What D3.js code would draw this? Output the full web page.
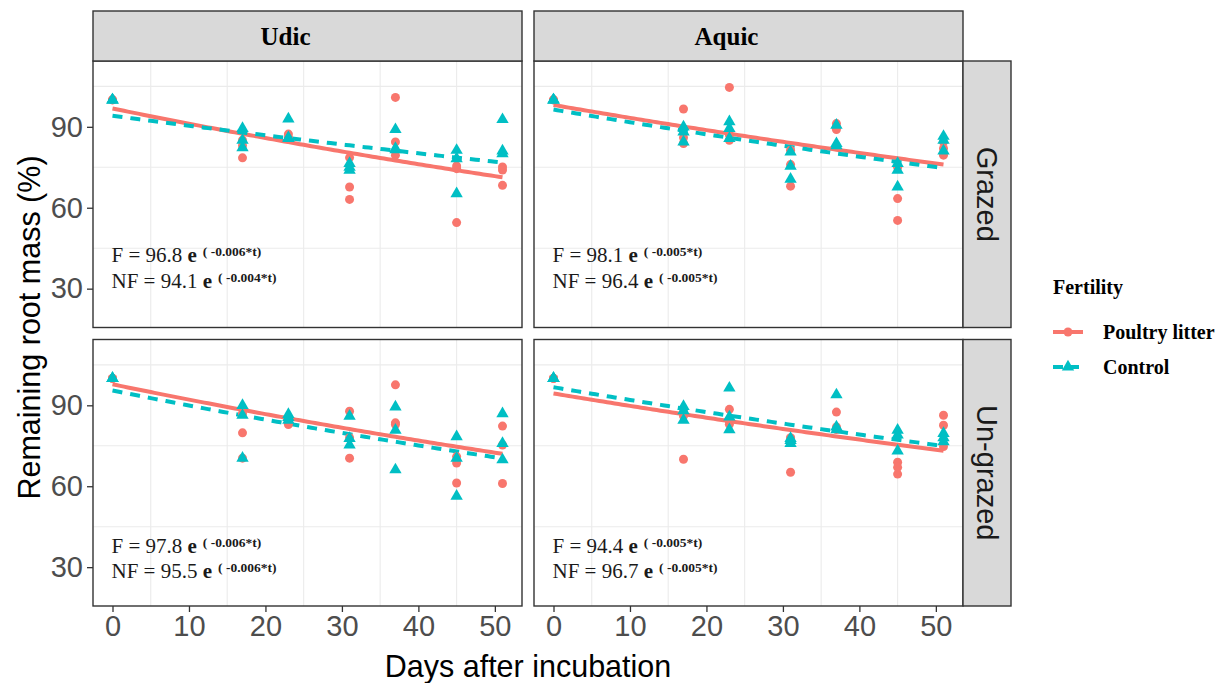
<!DOCTYPE html>
<html>
<head>
<meta charset="utf-8">
<script src="https://cdn.jsdelivr.net/npm/d3@7"></script>
<style>
  body { margin: 0; background: #fff; }
  svg { display: block; }
</style>
</head>
<body>
<svg id="chart" width="1223" height="683"></svg>
<script>
// ---- data -------------------------------------------------------------
const days = [0, 17, 23, 31, 37, 45, 51];
const soils = ["Udic", "Aquic"];
const grazing = ["Grazed", "Un-grazed"];
const fertility = ["Poultry litter", "Control"];
const yTicks = [30, 60, 90];
const xTicks = [0, 10, 20, 30, 40, 50];

// Remaining root mass (%) per sampling day, three replicates each
const udicGrazedPoultry = [[100, 100, 100], [78.5, 83, 85], [87.3, 85.5, 86], [78.6, 67.7, 63.1], [100.9, 84.4, 79.5], [74.5, 54.5, 75.5], [75.1, 68.3, 74]];
const udicGrazedControl = [[100, 100, 100], [89.4, 85, 82.3], [92.9, 85.7, 86], [76.4, 73.9, 75], [89, 82, 81.5], [81.3, 78.2, 65.2], [92.7, 81.1, 80]];
const aquicGrazedPoultry = [[100, 100, 100], [96.6, 83.8, 86], [104.6, 85, 87], [81.3, 68, 76], [91.2, 90, 89], [63.4, 55.3, 75], [84.4, 79.5, 82]];
const aquicGrazedControl = [[100, 100, 100], [90, 88.1, 84.4], [91.9, 89.4, 85.7], [80.7, 75.4, 70.6], [90.6, 83.8, 83], [76.4, 73.9, 67.7], [86.5, 81.1, 85]];
const udicUngrazedPoultry = [[100, 100, 100], [79.8, 70.4, 87], [82.9, 84, 85], [87.8, 70.4, 78], [97.6, 82.9, 83.5], [68.6, 61.2, 71], [82.3, 75.3, 61]];
const udicUngrazedControl = [[100, 100, 100], [90, 86.3, 70.4], [86.6, 84.5, 85.5], [86, 77.7, 75.3], [89.4, 80.8, 66.1], [78.4, 70.4, 56.3], [86.9, 75.9, 69.8]];
const aquicUngrazedPoultry = [[100, 100, 100], [70, 87.5, 86], [88.5, 84.1, 83], [65.2, 77.7, 78], [87.5, 82, 81], [68.9, 64.5, 67], [86.3, 82.6, 74.7]];
const aquicUngrazedControl = [[100, 100, 100], [89.6, 84.5, 88], [96.4, 85.7, 81], [77.7, 75.9, 77], [93.9, 81, 82], [80.8, 73.1, 79], [79.6, 76.5, 78]];

// Fitted exponential decay  M(t) = a * e^(k t), indexed [grazing][soil]
const poultryA = [[96.8, 98.1], [97.8, 94.4]];
const poultryK = [[-0.006, -0.005], [-0.006, -0.005]];
const controlA = [[94.1, 96.4], [95.5, 96.7]];
const controlK = [[-0.004, -0.005], [-0.006, -0.005]];

const observations = [
  [[udicGrazedPoultry, udicGrazedControl], [aquicGrazedPoultry, aquicGrazedControl]],
  [[udicUngrazedPoultry, udicUngrazedControl], [aquicUngrazedPoultry, aquicUngrazedControl]]
];

// ---- layout -----------------------------------------------------------
const colors = ["#F8766D", "#00BFC4"];
const serif = "'Liberation Serif', 'Times New Roman', serif";
const sans = "'Liberation Sans', Arial, sans-serif";

const panelW = 429, panelH = 266.5;
const panelX = [93, 534];
const panelY = [61, 339.5];
const stripH = 50, stripW = 48;

const x = d3.scaleLinear().domain([-2.55, 53.55]).range([0, panelW]);
const y = d3.scaleLinear().domain([15.6, 114.4]).range([panelH, 0]);

const svg = d3.select("#chart");
svg.append("rect").attr("width", 1223).attr("height", 683).attr("fill", "#fff");

const line = d3.line().x(d => x(d[0])).y(d => y(d[1]));
const tGrid = d3.range(0, 51.01, 0.5);

// annotation baselines (in % units) for each row
const labelY = [[39.7, 30.1], [35.2, 25.9]];

grazing.forEach((gName, gi) => {
  soils.forEach((sName, si) => {
    const g = svg.append("g").attr("transform", `translate(${panelX[si]},${panelY[gi]})`);

    g.append("rect").attr("width", panelW).attr("height", panelH).attr("fill", "#fff");

    // minor grid
    const minorX = [5, 15, 25, 35, 45];
    const minorY = [45, 75, 105];
    g.selectAll(".gx").data(minorX).join("line")
      .attr("x1", d => x(d)).attr("x2", d => x(d))
      .attr("y1", 0).attr("y2", panelH)
      .attr("stroke", "#EBEBEB").attr("stroke-width", 1.1);
    g.selectAll(".gy").data(minorY).join("line")
      .attr("y1", d => y(d)).attr("y2", d => y(d))
      .attr("x1", 0).attr("x2", panelW)
      .attr("stroke", "#EBEBEB").attr("stroke-width", 1.1);

    // fitted curves
    const fits = [
      { a: poultryA[gi][si], k: poultryK[gi][si] },
      { a: controlA[gi][si], k: controlK[gi][si] }
    ];
    fits.forEach((f, fi) => {
      g.append("path")
        .attr("d", line(tGrid.map(t => [t, f.a * Math.exp(f.k * t)])))
        .attr("fill", "none")
        .attr("stroke", colors[fi])
        .attr("stroke-width", 4)
        .attr("stroke-dasharray", fi === 1 ? "10,8" : null);
    });

    // points
    const poultryPts = [], controlPts = [];
    days.forEach((d, di) => {
      observations[gi][si][0][di].forEach(v => poultryPts.push([d, v]));
      observations[gi][si][1][di].forEach(v => controlPts.push([d, v]));
    });
    g.selectAll(".pl").data(poultryPts).join("circle")
      .attr("cx", d => x(d[0])).attr("cy", d => y(d[1]))
      .attr("r", 4.5).attr("fill", colors[0]);
    const tri = d3.symbol().type(d3.symbolTriangle).size(66);
    g.selectAll(".ct").data(controlPts).join("path")
      .attr("d", tri)
      .attr("transform", d => `translate(${x(d[0])},${y(d[1])})`)
      .attr("fill", colors[1]);

    // equations
    const eqs = [
      { lab: "F", a: fits[0].a, k: fits[0].k },
      { lab: "NF", a: fits[1].a, k: fits[1].k }
    ];
    eqs.forEach((e, ei) => {
      const t = g.append("text")
        .attr("x", x(0) - 1)
        .attr("y", y(labelY[gi][ei]))
        .attr("font-family", serif)
        .attr("font-size", 21)
        .attr("fill", "#1a1a1a");
      t.append("tspan").text(`${e.lab} = ${e.a.toFixed(1)} `);
      t.append("tspan").attr("font-weight", "bold").text("e");
      t.append("tspan").attr("font-weight", "bold").attr("font-size", 13.5)
        .attr("dx", 6).attr("dy", -6).text(`( ${e.k.toFixed(3)}*t)`);
    });

    // panel border
    g.append("rect").attr("width", panelW).attr("height", panelH)
      .attr("fill", "none").attr("stroke", "#333").attr("stroke-width", 1.4);

    // axes
    if (si === 0) {
      const ax = g.append("g").call(d3.axisLeft(y).tickValues(yTicks).tickSize(6).tickPadding(4));
      ax.select(".domain").remove();
      ax.selectAll(".tick line").attr("stroke", "#333").attr("stroke-width", 1.3);
      ax.selectAll(".tick text").attr("font-family", sans).attr("font-size", 29).attr("fill", "#4D4D4D");
    }
    if (gi === 1) {
      const ax = g.append("g").attr("transform", `translate(0,${panelH})`)
        .call(d3.axisBottom(x).tickValues(xTicks).tickSize(6).tickPadding(3));
      ax.select(".domain").remove();
      ax.selectAll(".tick line").attr("stroke", "#333").attr("stroke-width", 1.3);
      ax.selectAll(".tick text").attr("font-family", sans).attr("font-size", 29).attr("fill", "#4D4D4D");
    }

    // top strips (labels sit a little left of centre)
    if (gi === 0) {
      const s = svg.append("g").attr("transform", `translate(${panelX[si]},${panelY[0] - stripH})`);
      s.append("rect").attr("width", panelW).attr("height", stripH)
        .attr("fill", "#D9D9D9").attr("stroke", "#333").attr("stroke-width", 1.4);
      s.append("text").attr("x", panelW / 2 - 22).attr("y", stripH / 2)
        .attr("dy", "0.35em").attr("text-anchor", "middle")
        .attr("font-family", serif).attr("font-weight", "bold").attr("font-size", 25)
        .attr("fill", "#000").text(sName);
    }
    // right strips
    if (si === 1) {
      const s = svg.append("g").attr("transform", `translate(${panelX[1] + panelW},${panelY[gi]})`);
      s.append("rect").attr("width", stripW).attr("height", panelH)
        .attr("fill", "#D9D9D9").attr("stroke", "#333").attr("stroke-width", 1.4);
      s.append("text")
        .attr("transform", `translate(${stripW / 2},${panelH / 2}) rotate(90)`)
        .attr("dy", "0.35em").attr("text-anchor", "middle")
        .attr("font-family", sans).attr("font-size", 29)
        .attr("fill", "#1A1A1A").text(gName);
    }
  });
});

// axis titles
svg.append("text")
  .attr("x", (panelX[0] + panelX[1] + panelW) / 2).attr("y", 677)
  .attr("text-anchor", "middle").attr("font-family", sans).attr("font-size", 30.5)
  .attr("fill", "#000").text("Days after incubation");
svg.append("text")
  .attr("transform", `translate(40,${(panelY[0] + panelY[1] + panelH) / 2 - 6}) rotate(-90)`)
  .attr("text-anchor", "middle").attr("font-family", sans).attr("font-size", 30.5)
  .attr("fill", "#000").text("Remaining root mass (%)");

// legend
const leg = svg.append("g").attr("transform", "translate(1053,0)");
leg.append("text").attr("x", 0).attr("y", 294)
  .attr("font-family", serif).attr("font-weight", "bold").attr("font-size", 20)
  .attr("fill", "#000").text("Fertility");
const legRows = [332, 367];
fertility.forEach((f, i) => {
  const r = leg.append("g").attr("transform", `translate(0,${legRows[i]})`);
  r.append("line").attr("x1", 0).attr("x2", 30).attr("y1", 0).attr("y2", 0)
    .attr("stroke", colors[i]).attr("stroke-width", 4)
    .attr("stroke-dasharray", i === 1 ? "10,6" : null);
  if (i === 0) {
    r.append("circle").attr("cx", 15).attr("cy", 0).attr("r", 4.5).attr("fill", colors[0]);
  } else {
    r.append("path").attr("d", d3.symbol().type(d3.symbolTriangle).size(66)())
      .attr("transform", "translate(15,0)").attr("fill", colors[1]);
  }
  r.append("text").attr("x", 50).attr("y", 0).attr("dy", "0.35em")
    .attr("font-family", serif).attr("font-weight", "bold").attr("font-size", 20)
    .attr("fill", "#000").text(f);
});
</script>
</body>
</html>
